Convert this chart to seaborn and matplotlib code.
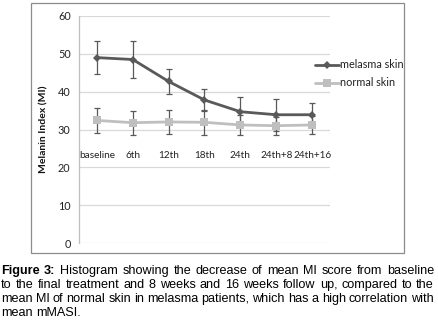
import matplotlib
matplotlib.use("Agg")
import matplotlib.pyplot as plt
from matplotlib.patches import Rectangle
import numpy as np
import pandas as pd
import seaborn as sns

# ── Data ─────────────────────────────────────────────────────────────────────
timepoints = ["baseline", "6th", "12th", "18th", "24th", "24th+8", "24th+16"]
melasma_mean = [49.0, 48.5, 42.7, 37.8, 34.7, 33.9, 33.9]
melasma_err = [4.4, 4.9, 3.2, 2.9, 3.8, 4.2, 3.1]
normal_mean = [32.4, 31.8, 32.0, 31.9, 31.2, 31.0, 31.2]
normal_err = [3.2, 3.2, 3.1, 3.3, 2.7, 2.4, 2.4]
y_ticks = [0, 10, 20, 30, 40, 50, 60]

caption_lines = [
    "Figure 3: Histogram showing the decrease of mean MI score from baseline",
    "to the final treatment and 8 weeks and 16 weeks follow up, compared to the",
    "mean MI of normal skin in melasma patients, which has a high correlation with",
    "mean mMASI.",
]

sns.set_theme(style="white")
plt.rcParams["font.family"] = ["Lato", "DejaVu Sans"]

W, H, DPI = 439, 321, 100
fig = plt.figure(figsize=(W / DPI, H / DPI), dpi=DPI)

def fx(px):
    return px / W

def fy(py):
    return 1 - py / H

# outer chart border
fig.patches.append(Rectangle((fx(31), fy(253)), fx(404) - fx(31), fy(3) - fy(253),
                             transform=fig.transFigure, fill=False,
                             edgecolor="#8c8c8c", linewidth=0.9))

ax = fig.add_axes([fx(79), fy(243), fx(330) - fx(79), fy(16) - fy(243)])

df = pd.DataFrame({
    "x": list(range(len(timepoints))) * 2,
    "value": melasma_mean + normal_mean,
    "series": ["melasma skin"] * len(timepoints) + ["normal skin"] * len(timepoints),
})
palette = {"melasma skin": "#595959", "normal skin": "#bfbfbf"}
markers = {"melasma skin": "D", "normal skin": "s"}
msizes = {"melasma skin": 4.2, "normal skin": 5.6}

x = np.arange(len(timepoints))
ax.errorbar(x, melasma_mean, yerr=melasma_err, fmt="none", ecolor="#595959",
            elinewidth=0.9, capsize=2.2, capthick=0.9, zorder=3)
ax.errorbar(x, normal_mean, yerr=normal_err, fmt="none", ecolor="#595959",
            elinewidth=0.9, capsize=2.2, capthick=0.9, zorder=2)

sns.lineplot(data=df, x="x", y="value", hue="series", style="series",
             palette=palette, markers=markers, dashes=False, ax=ax,
             linewidth=2.0, markeredgewidth=0, legend=False, zorder=4)
for line, name in zip(ax.lines[-2:], ["melasma skin", "normal skin"]):
    line.set_markersize(msizes[name])

ax.set_xlim(-0.5, len(timepoints) - 0.5)
ax.set_ylim(0, 60)
ax.set_yticks(y_ticks)
ax.set_yticklabels([str(t) for t in y_ticks], fontsize=7.8, color="#222222")
ax.tick_params(axis="y", length=0, pad=6)
ax.set_xticks([])
ax.set_xlabel("")
ax.set_ylabel("Melanin Index (MI)", fontsize=7.5, fontweight="bold", labelpad=7,
              color="#111111")
ax.yaxis.grid(True, color="#d9d9d9", linewidth=0.9)
ax.set_axisbelow(True)
for side in ["top", "right", "bottom"]:
    ax.spines[side].set_visible(False)
ax.spines["left"].set_color("#bfbfbf")
ax.spines["left"].set_linewidth(0.9)

# category labels sit inside the plot at ~23
for i, lab in enumerate(timepoints):
    ax.text(i, 23.1, lab, ha="center", va="center", fontsize=7.2, color="#222222")

# legend drawn by hand
for py, name in [(65, "melasma skin"), (83, "normal skin")]:
    fig.add_artist(plt.Line2D([fx(315), fx(339)], [fy(py), fy(py)],
                              color=palette[name], linewidth=2.0))
    fig.add_artist(plt.Line2D([fx(327)], [fy(py)], color=palette[name],
                              marker=markers[name], markersize=msizes[name],
                              markeredgewidth=0, linestyle="none"))
    fig.text(fx(340), fy(py), name, ha="left", va="center", fontsize=7.8,
             color="#222222")

# justified caption
cap_font = ["Liberation Sans", "DejaVu Sans"]
cap_size = 9.1
left_px, right_px = 1, 434
baselines = [274, 288, 302.3, 316.3]
renderer = fig.canvas.get_renderer()

def text_width(s, **kw):
    t = fig.text(0, 0, s, fontsize=cap_size, family=cap_font, **kw)
    w = t.get_window_extent(renderer).width
    t.remove()
    return w

space_w = text_width("a b") - text_width("ab")

for li, (line, by) in enumerate(zip(caption_lines, baselines)):
    words = line.split(" ")
    arts = []
    for wi, w in enumerate(words):
        bold = li == 0 and wi < 2
        t = fig.text(0, fy(by), w, ha="left", va="baseline", fontsize=cap_size,
                     family=cap_font, fontweight="bold" if bold else "normal",
                     color="black")
        arts.append(t)
    widths = [a.get_window_extent(renderer).width for a in arts]
    if li < len(caption_lines) - 1:
        gap = (right_px - left_px - sum(widths)) / (len(words) - 1)
    else:
        gap = space_w
    cur = left_px
    for a, w in zip(arts, widths):
        a.set_x(fx(cur))
        cur += w + gap

fig.savefig("out.png", dpi=DPI)
